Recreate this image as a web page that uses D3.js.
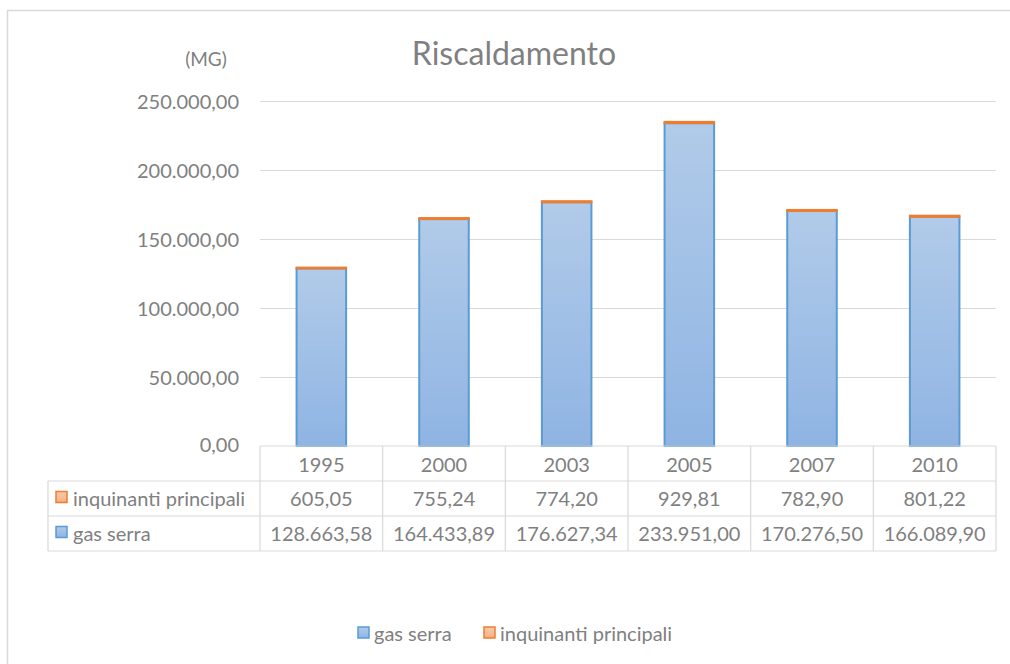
<!DOCTYPE html>
<html>
<head>
  <meta charset="utf-8">
  <script src="https://cdn.jsdelivr.net/npm/d3@7"></script>
  <style>
    html, body { margin: 0; padding: 0; background: #fff; }
    svg { display: block; font-family: Lato, "Open Sans", sans-serif; }
  </style>
</head>
<body>
  <svg id="chart" width="1010" height="664"></svg>
  <script>
  // values
  const years = ['1995', '2000', '2003', '2005', '2007', '2010'];
  const gasSerra = [128663.58, 164433.89, 176627.34, 233951.00, 170276.50, 166089.90];
  const inquinanti = [605.05, 755.24, 774.20, 929.81, 782.90, 801.22];
  const yTicks = [0, 50000, 100000, 150000, 200000, 250000];
  const seriesNames = ['gas serra', 'inquinanti principali'];

  const textColor = '#808080';
  const lineColor = '#d9d9d9';
  const blue = '#5b9bd5';
  const orange = '#ed7d31';

  const it = d3.formatLocale({ decimal: ',', thousands: '.', grouping: [3], currency: ['€', ''] });
  const fmt = it.format(',.2f');

  const svg = d3.select('#chart');

  // gradient for the blue columns
  const defs = svg.append('defs');
  const grad = defs.append('linearGradient')
    .attr('id', 'blueGrad').attr('x1', 0).attr('y1', 0).attr('x2', 0).attr('y2', 1);
  grad.append('stop').attr('offset', '0%').attr('stop-color', '#b1cbe9');
  grad.append('stop').attr('offset', '100%').attr('stop-color', '#8fb4e3');
  const gradO = defs.append('linearGradient')
    .attr('id', 'orangeGrad').attr('x1', 0).attr('y1', 0).attr('x2', 0).attr('y2', 1);
  gradO.append('stop').attr('offset', '0%').attr('stop-color', '#f8cbad');
  gradO.append('stop').attr('offset', '100%').attr('stop-color', '#f4b183');

  // outer chart border (runs off the right and bottom edges)
  svg.append('path')
    .attr('d', 'M7.5,700 V10.5 H1020')
    .attr('fill', 'none').attr('stroke', lineColor).attr('stroke-width', 1.5);

  const left = 260, right = 996;
  const x = d3.scaleBand().domain(years).range([left, right])
    .paddingInner(0.584).paddingOuter(0.292);
  const y = d3.scaleLinear().domain([0, 250000]).range([446, 101]);

  // gridlines
  svg.append('g').selectAll('line')
    .data(yTicks.slice(1))
    .join('line')
    .attr('x1', left).attr('x2', right)
    .attr('y1', d => Math.round(y(d)) + 0.5).attr('y2', d => Math.round(y(d)) + 0.5)
    .attr('stroke', lineColor).attr('stroke-width', 1);

  // y axis labels
  svg.append('g').selectAll('text')
    .data(yTicks)
    .join('text')
    .attr('x', 239).attr('y', d => y(d) - (d === 0 ? 2 : 0))
    .attr('text-anchor', 'end').attr('dominant-baseline', 'central')
    .attr('font-size', 20).attr('fill', textColor)
    .text(d => fmt(d));

  svg.append('text')
    .attr('x', 206).attr('y', 58)
    .attr('text-anchor', 'middle').attr('dominant-baseline', 'central')
    .attr('font-size', 19).attr('fill', textColor)
    .text('(MG)');

  svg.append('text')
    .attr('x', 514).attr('y', 52)
    .attr('text-anchor', 'middle').attr('dominant-baseline', 'central')
    .attr('font-size', 32).attr('fill', textColor)
    .text('Riscaldamento');

  // stacked columns
  const rows = years.map((yr, i) => ({ year: yr, gas: gasSerra[i], inq: inquinanti[i] }));
  const stack = d3.stack().keys(['gas', 'inq'])(rows);
  const fills = ['url(#blueGrad)', orange];
  const strokes = [blue, orange];
  const bw = x.bandwidth();

  svg.append('g').selectAll('g')
    .data(stack)
    .join('g')
    .each(function (layer, li) {
      d3.select(this).selectAll('rect')
        .data(layer)
        .join('rect')
        .attr('x', d => x(d.data.year) + 0.75)
        .attr('width', bw - 1.5)
        .attr('y', d => y(d[1]))
        .attr('height', d => Math.max(0.5, y(d[0]) - y(d[1])))
        .attr('fill', fills[li])
        .attr('stroke', strokes[li])
        .attr('stroke-width', 2);
    });

  // data table
  const rowY = [446, 481, 516, 551];
  const legLeft = 48;
  const table = svg.append('g')
    .attr('stroke', lineColor).attr('stroke-width', 1.2).attr('fill', 'none');
  table.append('line').attr('x1', left).attr('x2', right).attr('y1', rowY[0]).attr('y2', rowY[0]);
  rowY.slice(1).forEach(ry => {
    table.append('line').attr('x1', legLeft).attr('x2', right).attr('y1', ry).attr('y2', ry);
  });
  const colX = d3.range(years.length + 1).map(i => left + i * (right - left) / years.length);
  colX.forEach(cx => {
    table.append('line').attr('x1', cx).attr('x2', cx).attr('y1', rowY[0]).attr('y2', rowY[3]);
  });
  table.append('line').attr('x1', legLeft).attr('x2', legLeft).attr('y1', rowY[1]).attr('y2', rowY[3]);

  const colCenter = i => (colX[i] + colX[i + 1]) / 2;
  const cellFont = 20;

  svg.append('g').selectAll('text')
    .data(years)
    .join('text')
    .attr('x', (d, i) => colCenter(i)).attr('y', (rowY[0] + rowY[1]) / 2)
    .attr('text-anchor', 'middle').attr('dominant-baseline', 'central')
    .attr('font-size', cellFont).attr('fill', textColor)
    .text(d => d);

  const tableRows = [
    { name: seriesNames[1], values: inquinanti, fill: 'url(#orangeGrad)', stroke: orange },
    { name: seriesNames[0], values: gasSerra, fill: 'url(#blueGrad)', stroke: blue }
  ];

  tableRows.forEach((r, ri) => {
    const cy = (rowY[ri + 1] + rowY[ri + 2]) / 2 - 1;
    svg.append('rect')
      .attr('x', 56).attr('y', cy - 6).attr('width', 11).attr('height', 11)
      .attr('fill', r.fill).attr('stroke', r.stroke).attr('stroke-width', 1.5);
    svg.append('text')
      .attr('x', 73).attr('y', cy)
      .attr('dominant-baseline', 'central')
      .attr('font-size', cellFont).attr('fill', textColor)
      .text(r.name);
    svg.append('g').selectAll('text')
      .data(r.values)
      .join('text')
      .attr('x', (d, i) => colCenter(i)).attr('y', cy)
      .attr('text-anchor', 'middle').attr('dominant-baseline', 'central')
      .attr('font-size', cellFont).attr('fill', textColor)
      .text(d => fmt(d));
  });

  // legend
  const legend = [
    { name: seriesNames[0], x: 358, fill: 'url(#blueGrad)', stroke: blue },
    { name: seriesNames[1], x: 484, fill: 'url(#orangeGrad)', stroke: orange }
  ];
  const lg = svg.append('g').selectAll('g').data(legend).join('g')
    .attr('transform', d => `translate(${d.x},633)`);
  lg.append('rect')
    .attr('x', 0).attr('y', -6).attr('width', 11).attr('height', 11)
    .attr('fill', d => d.fill).attr('stroke', d => d.stroke).attr('stroke-width', 1.5);
  lg.append('text')
    .attr('x', 16).attr('y', 0)
    .attr('dominant-baseline', 'central')
    .attr('font-size', cellFont).attr('fill', textColor)
    .text(d => d.name);
  </script>
</body>
</html>
